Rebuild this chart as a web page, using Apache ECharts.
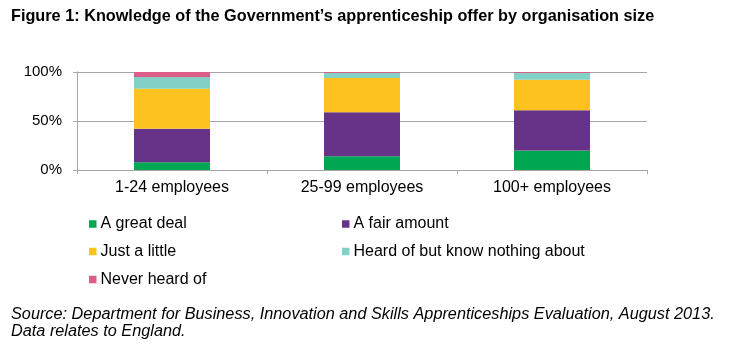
<!DOCTYPE html>
<html>
<head>
<meta charset="utf-8">
<script src="https://cdn.jsdelivr.net/npm/echarts@6/dist/echarts.min.js"></script>
<style>html,body{margin:0;padding:0;background:#fff}#c{width:750px;height:361px}</style>
</head>
<body>
<div id="c"></div>
<script>
const categories = ['1-24 employees', '25-99 employees', '100+ employees'];
const seriesNames = ['A great deal', 'A fair amount', 'Just a little', 'Heard of but know nothing about', 'Never heard of'];
const greatDeal = [8, 14, 20];
const fairAmount = [34, 45, 41];
const justALittle = [41, 35, 31];
const heardNothing = [12, 5, 7];
const neverHeard = [5, 1, 1];
const yTicks = [0, 50, 100];
const titleText = 'Figure 1: Knowledge of the Government\u2019s apprenticeship offer by organisation size';
const sourceLine1 = 'Source: Department for Business, Innovation and Skills Apprenticeships Evaluation, August 2013.';
const sourceLine2 = 'Data relates to England.';

const colors = ['#00A651', '#663389', '#FDC220', '#82D0C6', '#DA5E88'];
const values = [greatDeal, fairAmount, justALittle, heardNothing, neverHeard];
const sans = "'Liberation Sans', Arial, sans-serif";

const legendPos = [[89, 216], [342, 216], [89, 243.5], [342, 243.5], [89, 271.5]];

const chart = echarts.init(document.getElementById('c'), null, {renderer: 'canvas'});
chart.setOption({
  animation: false,
  color: colors,
  legend: seriesNames.map((n, i) => ({
    data: [n], left: legendPos[i][0], top: legendPos[i][1],
    icon: 'rect', itemWidth: 7.5, itemHeight: 7.5, itemGap: 4, padding: 0,
    textStyle: {fontFamily: sans, fontSize: 16, color: '#000', padding: [0, 0, 0, -1]},
    selectedMode: false
  })),
  grid: {left: 77, right: 103, top: 72, bottom: 191, containLabel: false},
  xAxis: {
    type: 'category', data: categories,
    axisLine: {lineStyle: {color: '#A6A6A6', width: 1}},
    axisTick: {show: true, length: 4, lineStyle: {color: '#A6A6A6'}},
    axisLabel: {fontFamily: sans, fontSize: 16, color: '#000', margin: 10}
  },
  yAxis: {
    type: 'value', min: yTicks[0], max: yTicks[yTicks.length - 1], interval: yTicks[1] - yTicks[0],
    axisLine: {show: true, lineStyle: {color: '#A6A6A6', width: 1}},
    axisTick: {show: true, length: 4, lineStyle: {color: '#A6A6A6'}},
    splitLine: {lineStyle: {color: '#A6A6A6', width: 1}},
    axisLabel: {fontFamily: sans, fontSize: 15, color: '#000', margin: 15, formatter: '{value}%'}
  },
  series: seriesNames.map((n, i) => ({
    name: n, type: 'bar', stack: 'total', barWidth: '40%', data: values[i],
    itemStyle: {color: colors[i]}
  })),
  graphic: [
    {type: 'text', x: 11, y: 8, scaleX: 0.956,
     style: {text: titleText, font: "bold 17px " + sans, fill: '#000', verticalAlign: 'top'}},
    {type: 'text', x: 11, y: 306.5, scaleX: 1.017,
     style: {text: sourceLine1, font: "italic 16px " + sans, fill: '#000', verticalAlign: 'top'}},
    {type: 'text', x: 11, y: 323.5, scaleX: 1.017,
     style: {text: sourceLine2, font: "italic 16px " + sans, fill: '#000', verticalAlign: 'top'}}
  ]
});
</script>
</body>
</html>
